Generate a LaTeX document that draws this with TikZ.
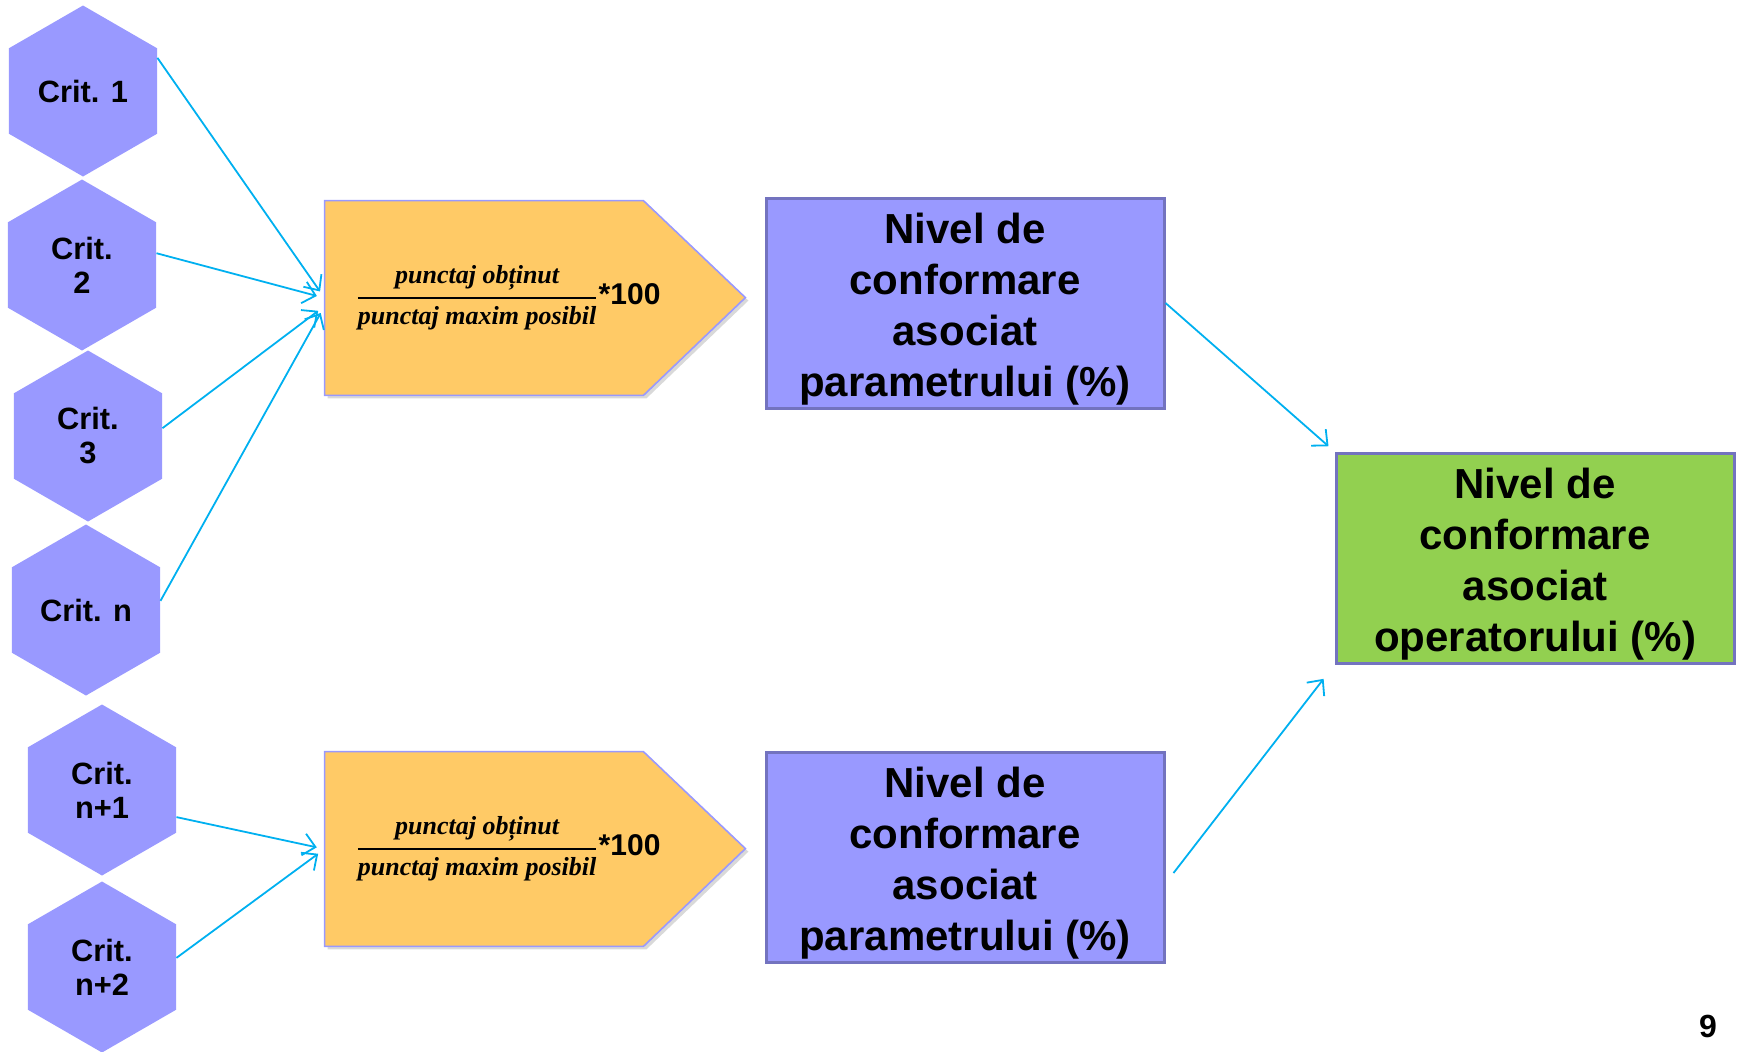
\documentclass[tikz,border=0pt]{standalone}
\usepackage{fontspec}
\setsansfont{Liberation Sans}
\newfontfamily\fracfont{Liberation Serif}
\usetikzlibrary{arrows.meta,shapes.geometric,shadows}
\definecolor{critblue}{HTML}{9999FF}
\definecolor{fracorange}{HTML}{FFCA66}
\definecolor{boxedge}{HTML}{7373BF}
\definecolor{opgreen}{HTML}{92D050}
\definecolor{linkblue}{HTML}{00B0F0}
\newcommand{\puncfrac}{{\raisebox{-2.8pt}[\height][0pt]{\fontsize{13}{14}\fracfont\bfseries\itshape punctaj obținut}\above 1pt\mbox{\fontsize{13}{14}\fracfont\bfseries\itshape punctaj maxim posibil}}}

\begin{document}
\begin{tikzpicture}[x=0.5pt, y=-0.5pt, >={Straight Barb[length=6pt,width=11pt]},
  crit/.style={regular polygon, regular polygon sides=6, shape border rotate=30,
    minimum size=85.5pt, inner sep=0pt, fill=critblue, align=center,
    font=\fontsize{15.4}{17}\sffamily\bfseries},
  fracbody/.style={rectangle, minimum width=159pt, minimum height=97pt, inner sep=0pt},
  pentagon/.style={fill=fracorange, draw=critblue, line width=0.8pt,
    drop shadow={shadow xshift=1.5pt, shadow yshift=-1.5pt, opacity=0.3}},
  fractext/.style={inner sep=0pt, font=\fontsize{15}{17}\sffamily\bfseries},
  param/.style={rectangle, minimum width=199pt, minimum height=105pt, inner ysep=0pt,
    fill=critblue, draw=boxedge, line width=1.5pt, align=center,
    font=\fontsize{21}{25.5}\sffamily\bfseries},
  link/.style={draw=linkblue, line width=0.9pt, shorten >=4pt}]
\useasboundingbox (0,0) rectangle (1739,1051);
\foreach \m/\l/\x/\y in {1/Crit. 1/83/91, 2/{Crit.\\2}/82/265, 3/{Crit.\\3}/88/436,
    n/Crit. n/86/610, n1/{Crit.\\n+1}/102/790, n2/{Crit.\\n+2}/102/967}
  \node [crit] (crit-\m) at (\x,\y) {\l};
\foreach \i/\y in {1/298, 2/849} {
  \node [fracbody] (frac-\i) at (484,\y) {};
  \filldraw [pentagon] (frac-\i.north west) -- (frac-\i.north east) -- ++(102,97)
    -- (frac-\i.south east) -- (frac-\i.south west) -- cycle;
  \node [fractext] (ratio-\i) at (508,\y) {$\displaystyle\puncfrac$*100};
}
\foreach \i/\y in {1/303, 2/857}
  \node [param] (param-\i) at (965,\y) {\rule{0pt}{21.5pt}Nivel de\\conformare\\asociat\\parametrului (\%)};
\node [param, fill=opgreen] (oper) at (1535,558) {\rule{0pt}{21.5pt}Nivel de\\conformare\\asociat\\operatorului (\%)};
\foreach \m/\a/\s in {1/24/0, 2/9/0, 3/6/-4, n/7/-4}
  \draw [link, ->] (crit-\m.\a) -- ([yshift=\s]frac-1.west);
\foreach \m/\a in {n1/-20, n2/7}
  \draw [link, ->] (crit-\m.\a) -- (frac-2.west);
\draw [link, ->] (param-1.east) -- (oper.north west);
\draw [link, ->] ([xshift=4pt, yshift=-8pt]param-2.east) -- ([xshift=-3pt, yshift=-4pt]oper.south west);
\node (page) at (1708,1026) {\fontsize{16}{16}\sffamily\bfseries 9};
\end{tikzpicture}
\end{document}
